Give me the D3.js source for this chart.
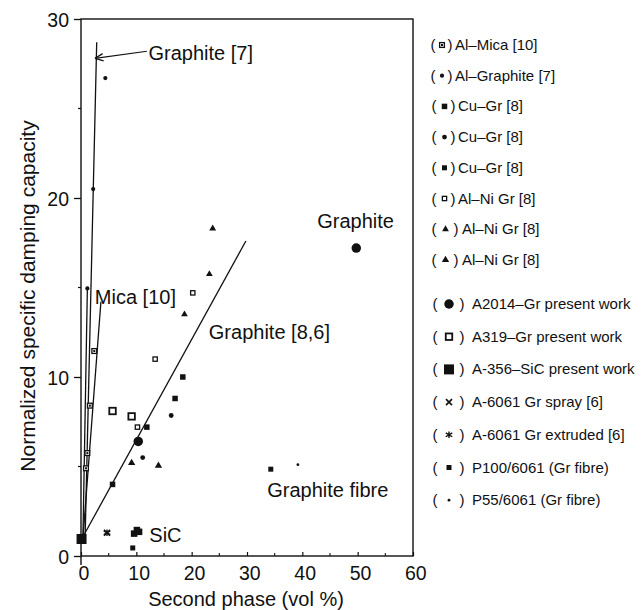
<!DOCTYPE html>
<html>
<head>
<meta charset="utf-8">
<script src="https://cdn.jsdelivr.net/npm/d3@7"></script>
<style>
  body { margin: 0; background: #fff; }
  text { font-family: "Liberation Sans", Arial, Helvetica, sans-serif; fill: #111; }
</style>
</head>
<body>
<svg id="chart" width="643" height="610"></svg>
<script>
// ---- data -------------------------------------------------------------
const xTicks = [0, 10, 20, 30, 40, 50, 60];
const yTicks = [0, 10, 20, 30];
const xMinorTicks = [5, 15, 25, 35, 45, 55];
const yMinorTicks = [5, 15, 25];

const legendLabels = [
  "Al–Mica [10]",
  "Al–Graphite [7]",
  "Cu–Gr [8]",
  "Cu–Gr [8]",
  "Cu–Gr [8]",
  "Al–Ni Gr [8]",
  "Al–Ni Gr [8]",
  "Al–Ni Gr [8]",
  "A2014–Gr present work",
  "A319–Gr present work",
  "A-356–SiC present work",
  "A-6061 Gr spray [6]",
  "A-6061 Gr extruded [6]",
  "P100/6061 (Gr fibre)",
  "P55/6061 (Gr fibre)"
];

// [vol %, normalized specific damping capacity]
const alMica      = [[2.4, 11.45], [1.6, 8.4], [1.15, 5.75], [0.9, 4.9]];
const alGraphite  = [[4.4, 26.7], [2.2, 20.5], [1.15, 14.95]];
const cuGrSquare  = [[5.7, 4.0], [11.9, 7.2], [17.0, 8.8], [18.4, 10.0]];
const cuGrDot     = [[11.15, 5.5], [16.3, 7.85]];
const cuGrSmall   = [[9.35, 0.45]];
const alNiOpen    = [[20.2, 14.7], [13.4, 11.0], [10.2, 7.2]];
const alNiTri     = [[23.8, 18.3], [23.2, 15.75], [18.7, 13.5]];
const alNiTri2    = [[9.15, 5.2], [14.0, 5.05]];
const a2014Gr     = [[10.35, 6.4], [49.75, 17.2]];
const a319Gr      = [[5.7, 8.1], [9.15, 7.8]];
const a356Base    = [[0.1, 0.95]];
const a6061Spray  = [[4.7, 1.3]];
const a6061Extr   = [[4.7, 1.3]];
const p100        = [[34.3, 4.85]];
const p55         = [[39.2, 5.1]];
// reinforced A-356 samples next to the SiC label
const a356SiC     = [[9.6, 1.25], [10.1, 1.45], [10.5, 1.35]];

const seriesData = [alMica, alGraphite, cuGrSquare, cuGrDot, cuGrSmall, alNiOpen,
  alNiTri, alNiTri2, a2014Gr, a319Gr, a356Base, a6061Spray, a6061Extr, p100, p55];

// trend lines, each from a start to an end point in data units
const lineGraphite7  = [[0.75, 1.1], [2.84, 28.7]];
const lineAlGraphite = [[0.35, 1.0], [1.15, 14.95]];
const lineMica10     = [[0.35, 1.0], [3.6, 14.2]];
const lineGraphite86 = [[0.4, 1.1], [29.8, 17.6]];

// ---- layout -----------------------------------------------------------
const svg = d3.select("#chart");
const x = d3.scaleLinear().domain([0, 60]).range([81, 413]);
const y = d3.scaleLinear().domain([0, 30]).range([556, 19]);

// marker styles, one per series (legend order)
const markerStyles = [
  { shape: "squareDot", size: 6 },
  { shape: "dot", size: 4.2 },
  { shape: "square", size: 5.5 },
  { shape: "dot", size: 4.8 },
  { shape: "square", size: 5 },
  { shape: "openSquare", size: 5.5 },
  { shape: "triangle", size: 6 },
  { shape: "triangle", size: 6.5 },
  { shape: "dot", size: 9.5 },
  { shape: "openSquareBig", size: 8.5 },
  { shape: "square", size: 10 },
  { shape: "cross", size: 6 },
  { shape: "asterisk", size: 6.5 },
  { shape: "square", size: 5 },
  { shape: "dot", size: 2.8 }
];
const smallSiCStyle = { shape: "square", size: 6.5 };

function drawMarker(g, style, cx, cy) {
  const s = style.size, h = s / 2;
  const k = "#111";
  switch (style.shape) {
    case "dot":
      g.append("circle").attr("cx", cx).attr("cy", cy).attr("r", h).attr("fill", k);
      break;
    case "square":
      g.append("rect").attr("x", cx - h).attr("y", cy - h).attr("width", s).attr("height", s).attr("fill", k);
      break;
    case "openSquare":
      g.append("rect").attr("x", cx - h + 0.6).attr("y", cy - h + 0.6).attr("width", s - 1.2).attr("height", s - 1.2)
        .attr("fill", "#fff").attr("stroke", k).attr("stroke-width", 1.3);
      break;
    case "openSquareBig":
      g.append("rect").attr("x", cx - h + 1).attr("y", cy - h + 1).attr("width", s - 2).attr("height", s - 2)
        .attr("fill", "#fff").attr("stroke", k).attr("stroke-width", 1.8);
      break;
    case "squareDot":
      g.append("rect").attr("x", cx - h + 0.6).attr("y", cy - h + 0.6).attr("width", s - 1.2).attr("height", s - 1.2)
        .attr("fill", "#fff").attr("stroke", k).attr("stroke-width", 1.3);
      g.append("rect").attr("x", cx - 1).attr("y", cy - 1).attr("width", 2).attr("height", 2).attr("fill", k);
      break;
    case "triangle":
      g.append("path")
        .attr("d", d3.symbol().type(d3.symbolTriangle).size(s * s * 0.55)())
        .attr("transform", `translate(${cx},${cy})`).attr("fill", k);
      break;
    case "cross":
      g.append("path")
        .attr("d", `M${cx - h},${cy - h}L${cx + h},${cy + h}M${cx - h},${cy + h}L${cx + h},${cy - h}`)
        .attr("stroke", k).attr("stroke-width", 1.6);
      break;
    case "asterisk":
      g.append("path")
        .attr("d", `M${cx - h},${cy - h * 0.6}L${cx + h},${cy + h * 0.6}M${cx - h},${cy + h * 0.6}L${cx + h},${cy - h * 0.6}M${cx},${cy - h}L${cx},${cy + h}`)
        .attr("stroke", k).attr("stroke-width", 1.4);
      break;
  }
}

// ---- frame and axes ---------------------------------------------------
const axisColor = "#111";
svg.append("rect")
  .attr("x", x(0)).attr("y", y(30))
  .attr("width", x(60) - x(0)).attr("height", y(0) - y(30))
  .attr("fill", "none").attr("stroke", axisColor).attr("stroke-width", 1.4);

// y axis line runs a little below the x axis
svg.append("line").attr("x1", x(0)).attr("x2", x(0)).attr("y1", y(0)).attr("y2", y(0) + 9)
  .attr("stroke", axisColor).attr("stroke-width", 1.4);

const yAxis = svg.append("g")
  .attr("transform", `translate(${x(0)},0)`)
  .call(d3.axisLeft(y).tickValues(yTicks).tickSize(7).tickPadding(5).tickFormat(d3.format("d")));
yAxis.select(".domain").remove();
yAxis.selectAll(".tick line").attr("stroke", axisColor).attr("stroke-width", 1.3);
yAxis.selectAll(".tick text").attr("font-size", 19.5).attr("font-family", "Liberation Sans, Arial, sans-serif")
  .attr("fill", "#111").attr("dy", "0.36em");

svg.append("g").selectAll("line").data(yMinorTicks).join("line")
  .attr("x1", x(0) - 3).attr("x2", x(0)).attr("y1", d => y(d)).attr("y2", d => y(d))
  .attr("stroke", axisColor).attr("stroke-width", 1.2);

const xAxis = svg.append("g")
  .attr("transform", `translate(0,${y(0)})`)
  .call(d3.axisBottom(x).tickValues(xTicks).tickSize(-4).tickPadding(10).tickFormat(d3.format("d")));
xAxis.select(".domain").remove();
xAxis.selectAll(".tick line").attr("stroke", axisColor).attr("stroke-width", 1.2);
xAxis.selectAll(".tick text").attr("font-size", 19.5).attr("font-family", "Liberation Sans, Arial, sans-serif")
  .attr("fill", "#111").attr("dx", "0.12em");

svg.append("g").selectAll("line").data(xMinorTicks).join("line")
  .attr("x1", d => x(d)).attr("x2", d => x(d)).attr("y1", y(0) - 3).attr("y2", y(0))
  .attr("stroke", axisColor).attr("stroke-width", 1.1);

// axis titles
svg.append("text")
  .attr("x", 246).attr("y", 606)
  .attr("text-anchor", "middle").attr("font-size", 20)
  .text("Second phase (vol %)");

svg.append("text")
  .attr("transform", "translate(35,296) rotate(-90)")
  .attr("text-anchor", "middle").attr("font-size", 21)
  .text("Normalized specific damping capacity");

// ---- trend lines ------------------------------------------------------
const lineGen = d3.line().x(d => x(d[0])).y(d => y(d[1]));
[lineGraphite7, lineAlGraphite, lineMica10, lineGraphite86].forEach(pts => {
  svg.append("path").attr("d", lineGen(pts))
    .attr("fill", "none").attr("stroke", "#111").attr("stroke-width", 1.3);
});

// ---- points -----------------------------------------------------------
const pointsLayer = svg.append("g");
seriesData.forEach((pts, i) => {
  pts.forEach(p => drawMarker(pointsLayer, markerStyles[i], x(p[0]), y(p[1])));
});
a356SiC.forEach(p => drawMarker(pointsLayer, smallSiCStyle, x(p[0]), y(p[1])));

// ---- annotations ------------------------------------------------------
const notes = svg.append("g").attr("font-size", 20);
notes.append("text").attr("x", x(12.2)).attr("y", y(27.7)).text("Graphite [7]");
notes.append("text").attr("x", x(2.5)).attr("y", y(14.1)).text("Mica [10]");
notes.append("text").attr("x", x(23.1)).attr("y", y(12.12)).text("Graphite [8,6]");
notes.append("text").attr("x", x(42.7)).attr("y", y(18.3)).text("Graphite");
notes.append("text").attr("x", x(33.65)).attr("y", y(3.27)).text("Graphite fibre");
notes.append("text").attr("x", x(12.35)).attr("y", y(0.8)).text("SiC");

// arrow pointing at the Graphite [7] line
const tail = [x(11.9), y(28.2)], tip = [x(2.53), y(27.8)];
svg.append("line").attr("x1", tail[0]).attr("y1", tail[1]).attr("x2", tip[0]).attr("y2", tip[1])
  .attr("stroke", "#111").attr("stroke-width", 1.2);
const ang = Math.atan2(tail[1] - tip[1], tail[0] - tip[0]);
[0.42, -0.42].forEach(da => {
  svg.append("line").attr("x1", tip[0]).attr("y1", tip[1])
    .attr("x2", tip[0] + 9 * Math.cos(ang + da)).attr("y2", tip[1] + 9 * Math.sin(ang + da))
    .attr("stroke", "#111").attr("stroke-width", 1.2);
});

// ---- legend -----------------------------------------------------------
function legendRow(i) {
  if (i < 8) return 45 + i * 30.7;
  return 304 + (i - 8) * 32.7;
}
// centres of "(", marker and ")" and the start of the label
function legendCols(i) {
  if (i < 2) return { open: 433, mark: 442, close: 450, text: 455 };
  if (i < 6) return { open: 434, mark: 444.5, close: 453, text: 458 };
  if (i < 8) return { open: 434, mark: 445.5, close: 456, text: 462 };
  return { open: 435, mark: 449, close: 462, text: 472 };
}
const legend = svg.append("g").attr("font-size", 15);
legendLabels.forEach((label, i) => {
  const cy = legendRow(i), c = legendCols(i);
  legend.append("text").attr("x", c.open).attr("y", cy + 5).attr("text-anchor", "middle").text("(");
  legend.append("text").attr("x", c.close).attr("y", cy + 5).attr("text-anchor", "middle").text(")");
  legend.append("text").attr("x", c.text).attr("y", cy + 5).text(label);
  drawMarker(legend, markerStyles[i], c.mark, cy);
});
</script>
</body>
</html>
